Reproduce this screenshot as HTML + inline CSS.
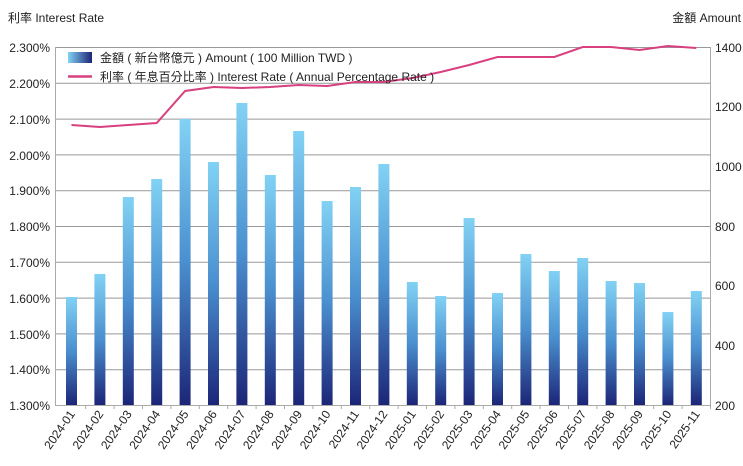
<!DOCTYPE html>
<html><head><meta charset="utf-8"><style>
body{margin:0;background:#fff}
svg text{font-family:"Liberation Sans","Noto Sans CJK TC",sans-serif;fill:#222}
</style></head><body>
<svg width="743" height="461" viewBox="0 0 743 461" xmlns="http://www.w3.org/2000/svg">
<defs>
<linearGradient id="bg" x1="0" y1="0" x2="0" y2="1"><stop offset="0" stop-color="#82d2f4"/><stop offset="0.5" stop-color="#4a8fcf"/><stop offset="1" stop-color="#1c2577"/></linearGradient>
<linearGradient id="lg" x1="0" y1="0" x2="1" y2="0"><stop offset="0" stop-color="#82d2f4"/><stop offset="1" stop-color="#1c2577"/></linearGradient>
</defs>
<text x="8" y="22" font-size="12">利率 Interest Rate</text>
<text x="741" y="22" font-size="12" text-anchor="end">金額 Amount</text>
<g stroke="#999" stroke-width="1">
<line x1="55" y1="47.5" x2="710" y2="47.5"/><line x1="55" y1="83.3" x2="710" y2="83.3"/><line x1="55" y1="119.1" x2="710" y2="119.1"/><line x1="55" y1="154.9" x2="710" y2="154.9"/><line x1="55" y1="190.7" x2="710" y2="190.7"/><line x1="55" y1="226.5" x2="710" y2="226.5"/><line x1="55" y1="262.3" x2="710" y2="262.3"/><line x1="55" y1="298.1" x2="710" y2="298.1"/><line x1="55" y1="333.9" x2="710" y2="333.9"/><line x1="55" y1="369.7" x2="710" y2="369.7"/>
<line x1="55.5" y1="47" x2="55.5" y2="406" stroke="#aaa"/><line x1="710.5" y1="47" x2="710.5" y2="406" stroke="#aaa"/>
<line x1="55" y1="405.5" x2="711" y2="405.5" stroke="#aaa"/>
</g>
<g font-size="12" text-anchor="end">
<text x="50" y="52">2.300%</text><text x="50" y="88">2.200%</text><text x="50" y="124">2.100%</text><text x="50" y="160">2.000%</text><text x="50" y="195">1.900%</text><text x="50" y="231">1.800%</text><text x="50" y="267">1.700%</text><text x="50" y="303">1.600%</text><text x="50" y="339">1.500%</text><text x="50" y="374">1.400%</text><text x="50" y="410">1.300%</text>
</g>
<g font-size="12">
<text x="715" y="52">1400</text><text x="715" y="111">1200</text><text x="715" y="171">1000</text><text x="715" y="231">800</text><text x="715" y="290">600</text><text x="715" y="350">400</text><text x="715" y="410">200</text>
</g>
<g fill="url(#bg)" id="bars"></g>
<polyline id="ln" fill="none" stroke="#d8407f" stroke-width="2"/>
<g id="lbl" font-size="12"></g>
<rect x="68" y="52" width="24" height="11" fill="url(#lg)"/>
<text x="100" y="62" font-size="12">金額 ( 新台幣億元 ) Amount ( 100 Million TWD )</text>
<line x1="68" y1="76.5" x2="92" y2="76.5" stroke="#d8407f" stroke-width="2.5"/>
<text x="100" y="81" font-size="12">利率 ( 年息百分比率 ) Interest Rate ( Annual Percentage Rate )</text>
<script>
var tops=[297,274,197,179,119,162,103,175,131,201,187,164,282,296,218,293,254,271,258,281,283,312,291];
var ly=[125,127,125,123,91,87,88,87,85,86,82,82,80,76,71,65,57,57,57,47,47,50,46,48];
ly=[125,127,125,123,91,87,88,87,85,86,82,82,78,72,65,57,57,57,47,47,50,46,48];
var ns="http://www.w3.org/2000/svg",b=document.getElementById('bars'),l=document.getElementById('lbl'),pts=[];
for(var i=0;i<23;i++){var cx=71.5+28.4*i;
var r=document.createElementNS(ns,'rect');r.setAttribute('x',cx-5.5);r.setAttribute('y',tops[i]);r.setAttribute('width',11);r.setAttribute('height',405-tops[i]);b.appendChild(r);
pts.push(cx+','+ly[i]);
var t=document.createElementNS(ns,'text');var y=2024+(i>=12?1:0),m=i%12+1;t.textContent=y+'-'+(m<10?'0':'')+m;
t.setAttribute('text-anchor','end');t.setAttribute('transform','translate('+(cx+4)+',414) rotate(-55)');l.appendChild(t);
var tk=document.createElementNS(ns,'line');tk.setAttribute('x1',cx+14.2);tk.setAttribute('x2',cx+14.2);tk.setAttribute('y1',405);tk.setAttribute('y2',409);tk.setAttribute('stroke','#aaa');l.appendChild(tk);}
document.getElementById('ln').setAttribute('points',pts.join(' '));
</script>
</svg>
</body></html>
